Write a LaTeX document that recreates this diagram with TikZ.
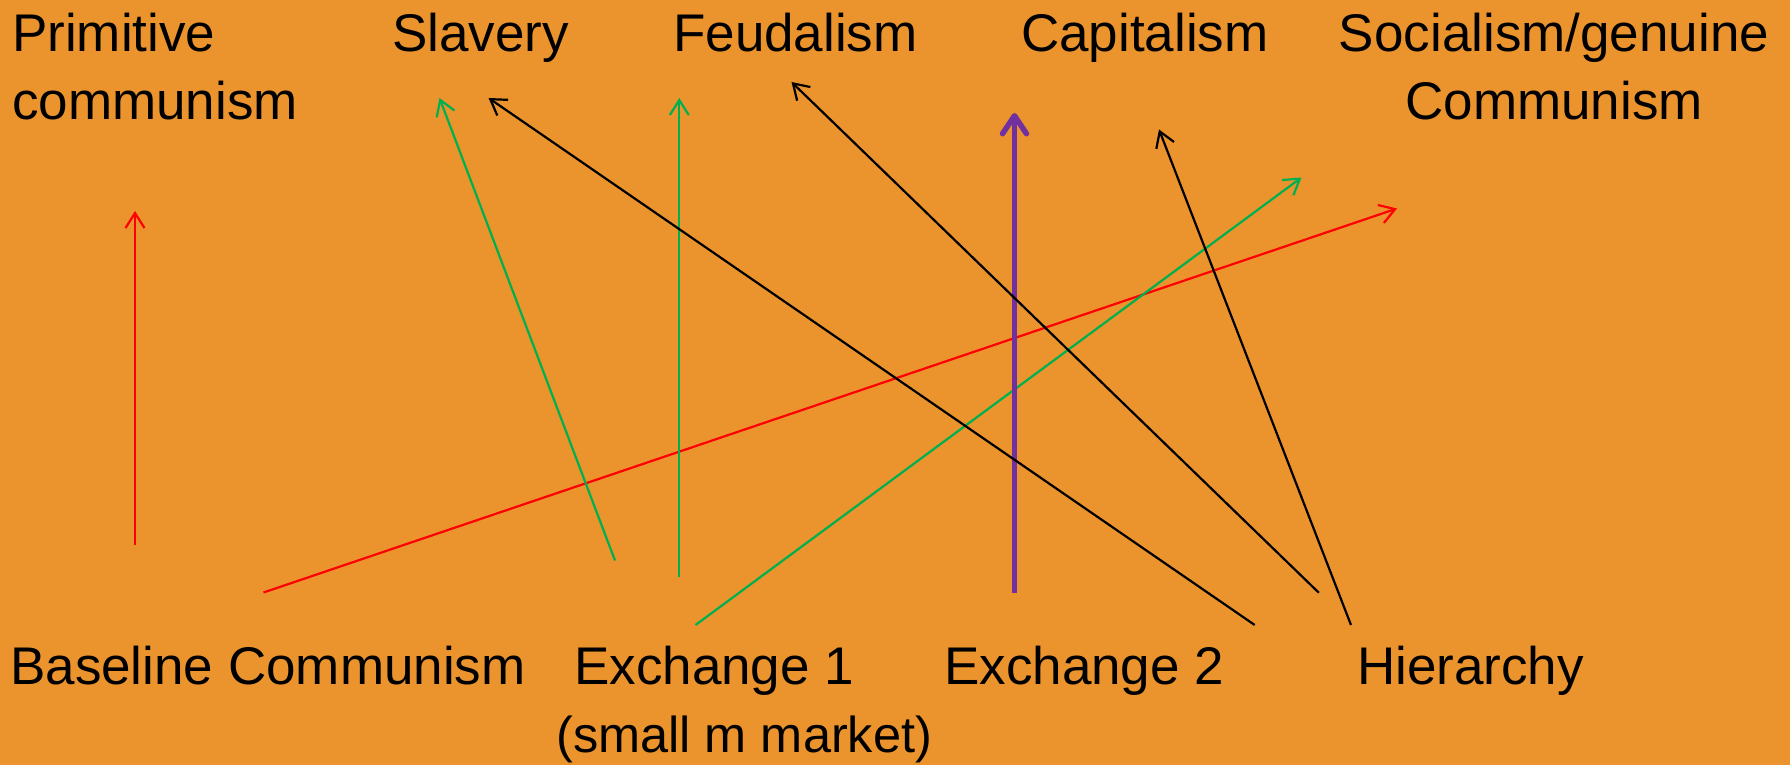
\documentclass[tikz,border=0pt]{standalone}
\usepackage{fontspec}
\setmainfont{Liberation Sans}
\usetikzlibrary{arrows.meta}
\definecolor{bgorange}{RGB}{235,148,45}
\definecolor{pgreen}{RGB}{0,176,80}
\definecolor{ppurple}{RGB}{112,48,160}
\tikzset{
  lbl/.style={inner sep=0pt, anchor=base west, font=\fontsize{53}{68}\selectfont, align=left},
  thinarrow/.style={line width=2.2pt, -{Straight Barb[length=15pt,width=19pt,line width=2.2pt]}},
  redarrow/.style={thinarrow, red},
  greenarrow/.style={thinarrow, pgreen},
  blackarrow/.style={thinarrow, black},
  purplearrow/.style={line width=5.5pt, ppurple, -{Straight Barb[length=18pt,width=24pt,line width=5.5pt,round]}}
}
\begin{document}
\begin{tikzpicture}[x=1pt,y=-1pt]
\fill[bgorange] (0,0) rectangle (1790,765);
\useasboundingbox (0,0) rectangle (1790,765);

% top labels (base anchor of a two-line node = baseline of its last line)
\node[lbl] (prim) at (12,120) {Primitive\\communism};
\node[lbl] (slav) at (392,51.7) {Slavery};
\node[lbl] (feud) at (673,51.7) {Feudalism};
\node[lbl] (capi) at (1021,51.7) {Capitalism};
\node[inner sep=0pt, anchor=base, font=\fontsize{53}{68}\selectfont, align=center] (soci) at (1554,120) {Socialism/genuine\\Communism};

% bottom labels
\node[lbl] (base) at (10,684) {Baseline Communism};
\node[lbl] (ex1) at (574,684) {Exchange 1};
\node[lbl, font=\fontsize{50.5}{68}\selectfont] (ex1b) at (556,752) {(small m market)};
\node[lbl] (ex2) at (944,684) {Exchange 2};
\node[lbl] (hier) at (1357,684) {Hierarchy};

% arrow endpoints
\coordinate (r1s) at (135,544.5);   \coordinate (r1e) at (135,211);
\coordinate (r2s) at (263.5,592.5); \coordinate (r2e) at (1397,208.5);
\coordinate (g1s) at (615,560.5);   \coordinate (g1e) at (439.5,98);
\coordinate (g2s) at (679.3,576.5); \coordinate (g2e) at (679.3,98);
\coordinate (g3s) at (695.5,625);   \coordinate (g3e) at (1301.5,177.5);
\coordinate (ps)  at (1014.5,592.5); \coordinate (pe) at (1014.5,113);
\coordinate (b1s) at (1254.7,625);  \coordinate (b1e) at (488.6,98);
\coordinate (b2s) at (1318.8,592.7); \coordinate (b2e) at (791.5,82);
\coordinate (b3s) at (1351,625);    \coordinate (b3e) at (1159,129.5);

\draw[redarrow] (r1s) -- (r1e);
\draw[redarrow] (r2s) -- (r2e);
\draw[greenarrow] (g1s) -- (g1e);
\draw[greenarrow] (g2s) -- (g2e);
\draw[greenarrow] (g3s) -- (g3e);
\draw[purplearrow] (ps) -- (pe);
\draw[blackarrow] (b1s) -- (b1e);
\draw[blackarrow] (b2s) -- (b2e);
\draw[blackarrow] (b3s) -- (b3e);
\end{tikzpicture}
\end{document}
